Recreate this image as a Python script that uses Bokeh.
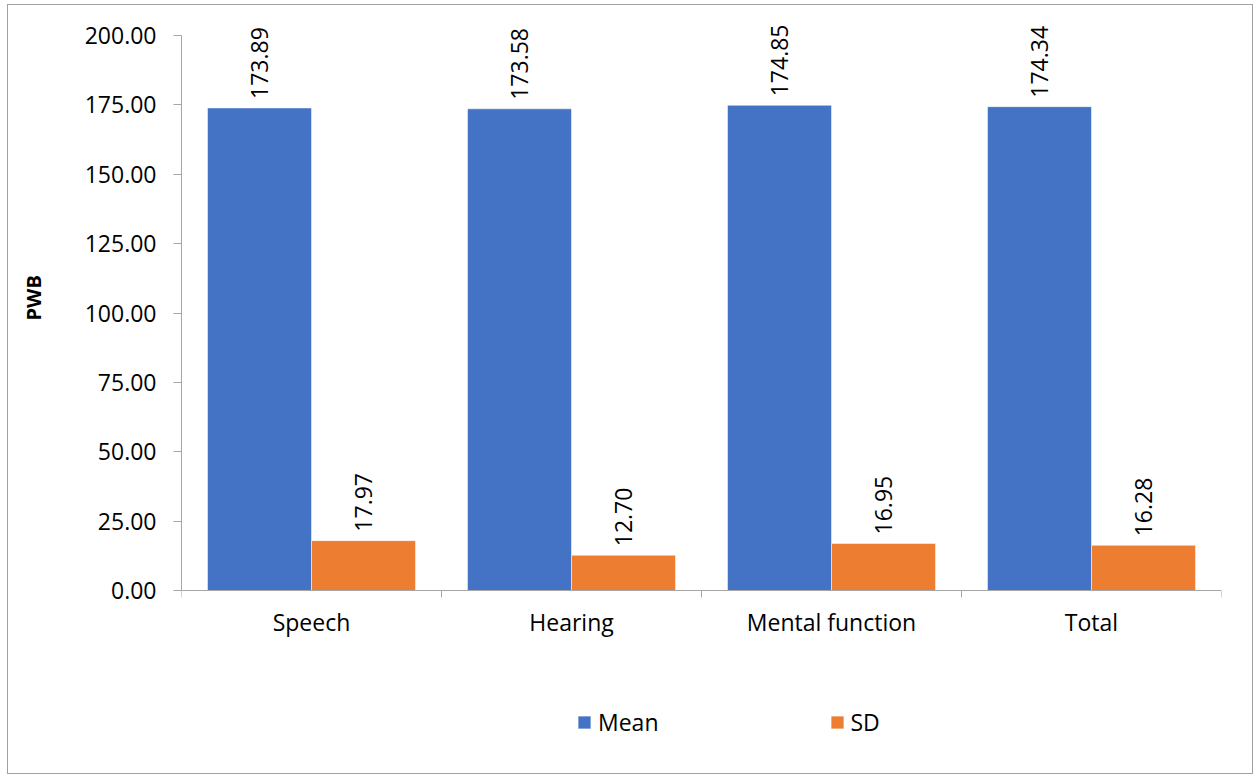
import numpy as np
from bokeh.plotting import figure
from bokeh.models import (Range1d, FixedTicker, Legend, LegendItem, ColumnDataSource,
                          NumeralTickFormatter, Title)
from bokeh.core.properties import value
from bokeh.embed import file_html
from bokeh.resources import INLINE

categories = ["Speech", "Hearing", "Mental function", "Total"]
mean_vals = [173.89, 173.58, 174.85, 174.34]
sd_vals = [17.97, 12.70, 16.95, 16.28]
y_ticks = [0, 25, 50, 75, 100, 125, 150, 175, 200]

FONT = "Open Sans"
BLUE = "#4472C4"
ORANGE = "#ED7D31"
GREY = "#a6a6a6"

# layout constants (pixels inside the figure)
FIG_H = 770
ZERO_PX = 585      # pixel row of value 0, measured from figure top
PX_PER_UNIT = 555 / 200.0
y_top = ZERO_PX / PX_PER_UNIT
y_bot = -(FIG_H - ZERO_PX) / PX_PER_UNIT

idx = np.arange(len(categories))
src_m = ColumnDataSource(dict(x=idx + 0.3, top=mean_vals, lab=["%.2f" % v for v in mean_vals]))
src_s = ColumnDataSource(dict(x=idx + 0.7, top=sd_vals, lab=["%.2f" % v for v in sd_vals]))

p = figure(width=1246, height=FIG_H, output_backend="svg", toolbar_location=None,
           x_range=Range1d(0, 4), y_range=Range1d(y_bot, y_top),
           min_border_left=173, min_border_right=33, min_border_top=0, min_border_bottom=0)
p.styles = {"margin-left": "7px", "margin-top": "4px", "border": "1px solid #a0a0a0"}
p.outline_line_color = None
p.xgrid.visible = False
p.ygrid.visible = False

rm = p.vbar(x="x", top="top", bottom=0, width=0.4, source=src_m, fill_color=BLUE,
            line_color="white", line_width=0.5)
rs = p.vbar(x="x", top="top", bottom=0, width=0.4, source=src_s, fill_color=ORANGE,
            line_color="white", line_width=0.5)

for src in (src_m, src_s):
    p.text(x="x", y="top", text="lab", source=src, angle=np.pi / 2, text_align="left",
           text_baseline="middle", y_offset=-9, text_font_size="23px", text_color="black",
           text_font=value(FONT))

# y axis
ya = p.yaxis[0]
ya.bounds = (0, 200)
ya.ticker = FixedTicker(ticks=y_ticks)
ya.formatter = NumeralTickFormatter(format="0.00")
ya.axis_line_color = GREY
ya.major_tick_line_color = GREY
ya.major_tick_out = 8
ya.major_tick_in = 0
ya.minor_tick_line_color = None
ya.major_label_standoff = 17
ya.major_label_text_font = FONT
ya.major_label_text_font_size = "23px"
ya.major_label_text_color = "black"

# spacer between tick labels and the y title
p.add_layout(Title(text=" ", standoff=19, text_font=FONT, text_font_size="1px"), "left")
# y axis title, placed along the 0-200 span
p.add_layout(Title(text="PWB", align="left", vertical_align="top", offset=455, standoff=22,
                   text_font=FONT, text_font_style="bold", text_font_size="20px",
                   text_color="black"), "left")

# x axis, drawn at value 0
xa = p.xaxis[0]
xa.fixed_location = 0
xa.ticker = FixedTicker(ticks=[i + 0.5 for i in idx], minor_ticks=[float(i) for i in range(len(categories) + 1)])
xa.major_label_overrides = {float(i + 0.5): c for i, c in enumerate(categories)}
xa.axis_line_color = GREY
xa.major_tick_line_color = None
xa.major_tick_out = 0
xa.major_tick_in = 0
xa.minor_tick_line_color = GREY
xa.minor_tick_out = 7
xa.minor_tick_in = 0
xa.major_label_standoff = 8
xa.major_label_text_font = FONT
xa.major_label_text_font_size = "23px"
xa.major_label_text_color = "black"

legend = Legend(items=[LegendItem(label="Mean", renderers=[rm]), LegendItem(label="SD", renderers=[rs])],
                orientation="horizontal", location=(395, 37), glyph_width=16, glyph_height=16,
                label_standoff=6, spacing=170, padding=0, margin=0, border_line_color=None,
                background_fill_alpha=0, label_text_font=FONT, label_text_font_size="23px",
                label_text_color="black")
p.add_layout(legend, "center")

open("out.html", "w").write(file_html(p, INLINE))
